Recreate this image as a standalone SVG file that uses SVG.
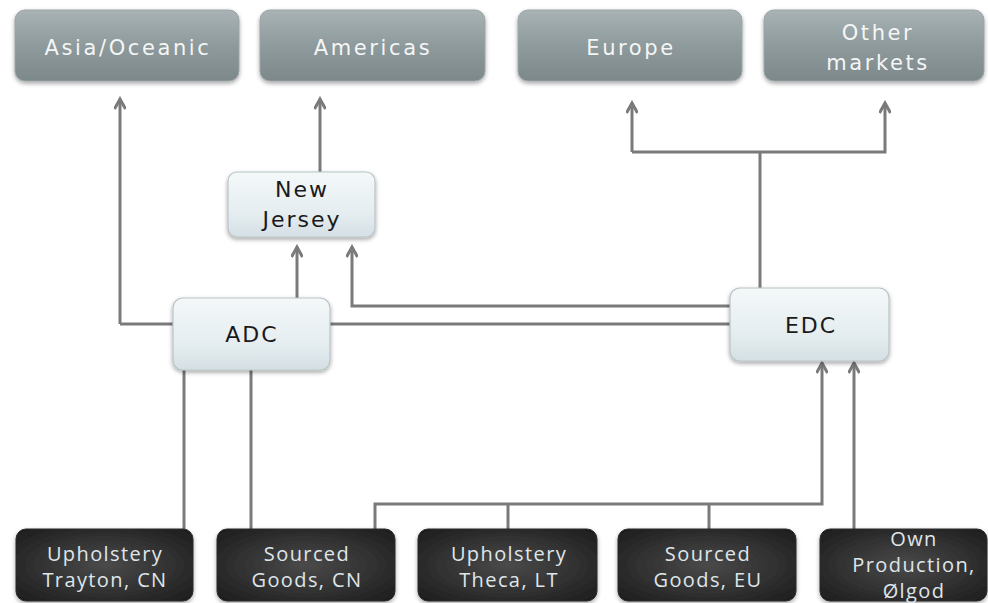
<svg xmlns="http://www.w3.org/2000/svg" width="988" height="603" viewBox="0 0 988 603">
<defs>
<linearGradient id="gTop" x1="0" y1="0" x2="0" y2="1">
<stop offset="0" stop-color="#a9b3b5"/><stop offset="0.5" stop-color="#8e9a9c"/><stop offset="1" stop-color="#7c888a"/>
</linearGradient>
<linearGradient id="gMid" x1="0" y1="0" x2="0" y2="1">
<stop offset="0" stop-color="#f4f8f9"/><stop offset="0.6" stop-color="#e6eef1"/><stop offset="1" stop-color="#d5e0e4"/>
</linearGradient>
<radialGradient id="gBot" cx="0.5" cy="0.5" r="0.7">
<stop offset="0" stop-color="#4a4a4a"/><stop offset="1" stop-color="#1c1c1c"/>
</radialGradient>
<filter id="sh" x="-10%" y="-10%" width="120%" height="130%">
<feDropShadow dx="0" dy="2" stdDeviation="2" flood-color="#000" flood-opacity="0.35"/>
</filter>
<marker id="ah" markerWidth="16" markerHeight="12" refX="13" refY="6" orient="auto" markerUnits="userSpaceOnUse">
<path d="M3,0.5 L13,6 L3,11.5" fill="none" stroke="#7a7a7a" stroke-width="3"/>
</marker>
<style>
.top rect{fill:url(#gTop);stroke:#9aa4a6;stroke-width:1;filter:url(#sh)}
.top text{fill:#f4f6f6;font-family:"DejaVu Sans",Verdana,sans-serif;font-size:21px;letter-spacing:2.6px;text-anchor:middle}
.mid rect{fill:url(#gMid);stroke:#b9c3c6;stroke-width:1.2;filter:url(#sh)}
.mid text{fill:#1a1a1a;font-family:"DejaVu Sans",Verdana,sans-serif;font-size:22px;letter-spacing:2px;text-anchor:middle}
.bot rect{fill:url(#gBot);stroke:#2a2a2a;stroke-width:1;filter:url(#sh)}
.bot text{fill:#dfe6ea;font-family:"Open Sans","Noto Sans",sans-serif;font-size:20px;letter-spacing:1.4px;text-anchor:middle}
.c path{fill:none;stroke:#7a7a7a;stroke-width:3}
.c .a{marker-end:url(#ah)}
</style>
</defs>
<rect width="988" height="603" fill="#ffffff"/>

<g class="c" id="connectors">
<path class="a" d="M120,324 L120,99"/>
<path d="M120,324 L173,324"/>
<path class="a" d="M320,172 L320,99"/>
<path class="a" d="M297,298 L297,247"/>
<path class="a" d="M730,306 L352,306 L352,247"/>
<path d="M330,324 L730,324"/>
<path d="M760,288 L760,152"/>
<path class="a" d="M632,152 L632,103"/>
<path class="a" d="M632,152 L885,152 L885,103"/>
<path d="M184,370 L184,529"/>
<path d="M251,370 L251,529"/>
<path class="a" d="M375,529 L375,504 L822,504 L822,363"/>
<path d="M508,529 L508,504"/>
<path d="M709,529 L709,504"/>
<path class="a" d="M854,529 L854,363"/>
</g>

<g class="top" id="asia"><rect x="15" y="10" width="224" height="71" rx="10"/><text x="128" y="55">Asia/Oceanic</text></g>
<g class="top" id="americas"><rect x="260" y="10" width="225" height="71" rx="10"/><text x="373" y="55">Americas</text></g>
<g class="top" id="europe"><rect x="518" y="10" width="224" height="71" rx="10"/><text x="631" y="55">Europe</text></g>
<g class="top" id="other"><rect x="764" y="10" width="220" height="71" rx="10"/><text x="878" y="40">Other</text><text x="878" y="70">markets</text></g>

<g class="mid" id="newjersey"><rect x="228" y="172" width="147" height="65" rx="9"/><text x="302" y="197">New</text><text x="302" y="227">Jersey</text></g>
<g class="mid" id="adc"><rect x="173" y="298" width="157" height="72" rx="10"/><text x="252" y="342">ADC</text></g>
<g class="mid" id="edc"><rect x="730" y="288" width="159" height="73" rx="10"/><text x="811" y="333">EDC</text></g>

<g class="bot" id="trayton"><rect x="16" y="529" width="177" height="72" rx="10"/><text x="105" y="561">Upholstery</text><text x="105" y="587">Trayton, CN</text></g>
<g class="bot" id="sourcedcn"><rect x="217" y="529" width="178" height="72" rx="10"/><text x="307" y="561">Sourced</text><text x="307" y="587">Goods, CN</text></g>
<g class="bot" id="theca"><rect x="418" y="529" width="179" height="72" rx="10"/><text x="509" y="561">Upholstery</text><text x="509" y="587">Theca, LT</text></g>
<g class="bot" id="sourcedeu"><rect x="618" y="529" width="178" height="72" rx="10"/><text x="708" y="561">Sourced</text><text x="708" y="587">Goods, EU</text></g>
<g class="bot" id="own"><rect x="820" y="529" width="167" height="72" rx="10"/><text x="914" y="546">Own</text><text x="914" y="572">Production,</text><text x="914" y="598">Ølgod</text></g>
</svg>
